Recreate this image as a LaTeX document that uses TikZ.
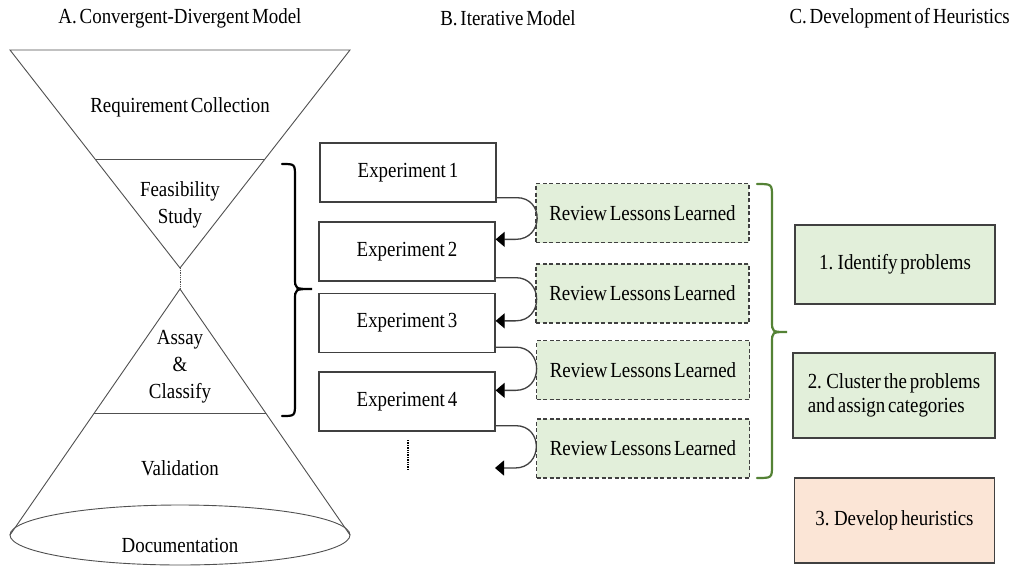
\documentclass[tikz,border=0pt]{standalone}
\usepackage{fontspec}
\setmainfont{Liberation Serif}[FakeStretch=0.88,WordSpace=0.6]
\usetikzlibrary{arrows.meta}
\definecolor{lgreen}{RGB}{226,239,218}
\definecolor{peach}{RGB}{251,229,214}
\definecolor{dgreen}{RGB}{84,130,53}
\definecolor{edgec}{RGB}{64,64,64}
\definecolor{thinc}{RGB}{80,80,80}
\tikzset{
  txt/.style={font=\fontsize{21.5}{27}\selectfont, inner sep=0pt, align=center},
  expbox/.style={draw=edgec, line width=1.3pt, fill=white, minimum width=176pt, minimum height=59pt, font=\fontsize{21.5}{24}\selectfont, inner sep=0pt},
  revbox/.style={draw=edgec, line width=1.1pt, dash pattern=on 4pt off 2.5pt, fill=lgreen, minimum width=213pt, minimum height=59pt, font=\fontsize{21.5}{24}\selectfont, inner sep=0pt},
  heurbox/.style={draw=edgec, line width=1.3pt, minimum width=200pt, font=\fontsize{21.5}{24}\selectfont, inner sep=0pt, align=left},
  loopline/.style={draw=edgec, line width=1.3pt, -{Triangle[length=9pt,width=15pt,color=black]}},
  funnel/.style={draw=thinc, line width=0.9pt},
  bracec/.style={line width=2.2pt, line cap=round}
}
\begin{document}
\begin{tikzpicture}[x=1pt,y=-1pt]
\useasboundingbox (0,0) rectangle (1014,565);
\fill[white] (0,0) rectangle (1014,565);

% titles
\node[txt] (tA) at (180,18) {A. Convergent-Divergent Model};
\node[txt] (tB) at (508,18) {B. Iterative Model};
\node[txt, anchor=east] (tC) at (1010,18) {C. Development of Heuristics};

% funnel
\coordinate (tl) at (10,50);
\coordinate (tr) at (350,50);
\coordinate (ta) at (180,268);
\coordinate (ba) at (180,289);
\coordinate (bl) at (10,535);
\coordinate (br) at (350,535);
\draw[funnel] (tl) -- (tr) -- (ta) -- cycle;
\draw[funnel] (95,159) -- (265,159);
\draw[thinc, line width=0.8pt, densely dotted] (ta) -- (ba);
\draw[funnel] (bl) -- (ba) -- (br);
\draw[funnel] (94,413) -- (266,413);
\draw[funnel] (180,535) ellipse [x radius=170, y radius=30];

\node[txt] (req) at (180,107) {Requirement Collection};
\node[txt] (feas) at (180,205) {Feasibility\\Study};
\node[txt] (assay) at (180,367) {Assay\\\&\\Classify};
\node[txt] (valid) at (180,468) {Validation};
\node[txt] (doc) at (180,545) {Documentation};

% black brace
\draw[bracec, black] (282,164) .. controls (295,164) .. (295,177) -- (295,278)
  .. controls (295,289) .. (312,289) .. controls (295,289) .. (295,300) -- (295,403)
  .. controls (295,416) .. (282,416);

% experiments
\node[expbox] (e1) at (408,172.5) {Experiment 1};
\node[expbox] (e2) at (407,251.5) {Experiment 2};
\node[expbox] (e3) at (407,323) {Experiment 3};
\node[expbox] (e4) at (407,401.5) {Experiment 4};
\draw[black, line width=1.4pt, densely dotted] (408,440) -- (408,470);

% reviews
\node[revbox] (r1) at (642.5,213) {Review Lessons Learned};
\node[revbox] (r2) at (642.5,293.5) {Review Lessons Learned};
\node[revbox] (r3) at (643,370) {Review Lessons Learned};
\node[revbox] (r4) at (643,448.5) {Review Lessons Learned};

% loops
\coordinate (endl) at (495,468);
\draw[loopline] ([yshift=5pt]e1.south east) -- ++(20,0)
  .. controls +(28,0) and +(28,0) .. ([xshift=20pt,yshift=-18pt]e2.north east) -- ([yshift=-18pt]e2.north east);
\draw[loopline] ([yshift=4pt]e2.south east) -- ++(20,0)
  .. controls +(28,0) and +(28,0) .. ([xshift=20pt,yshift=-28pt]e3.north east) -- ([yshift=-28pt]e3.north east);
\draw[loopline] ([yshift=6pt]e3.south east) -- ++(20,0)
  .. controls +(28,0) and +(28,0) .. ([xshift=20pt,yshift=-19pt]e4.north east) -- ([yshift=-19pt]e4.north east);
\draw[loopline] ([yshift=6pt]e4.south east) -- ++(20,0)
  .. controls +(28,0) and +(28,0) .. ([xshift=20pt]endl) -- (endl);

% green brace
\draw[bracec, dgreen] (757,184) .. controls (772,184) .. (772,197) -- (772,321)
  .. controls (772,332) .. (787,332) .. controls (772,332) .. (772,343) -- (772,465)
  .. controls (772,478) .. (757,478);

% heuristics
\node[heurbox, fill=lgreen, minimum height=79pt, align=center] (h1) at (895,264.5) {1. Identify problems};
\node[heurbox, fill=lgreen, minimum width=202pt, minimum height=85pt] (h2) at (894,395.5) {2. Cluster the problems\\and assign categories};
\node[heurbox, fill=peach, minimum height=85pt, align=center] (h3) at (894.5,520.5) {3. Develop heuristics};
\end{tikzpicture}
\end{document}
